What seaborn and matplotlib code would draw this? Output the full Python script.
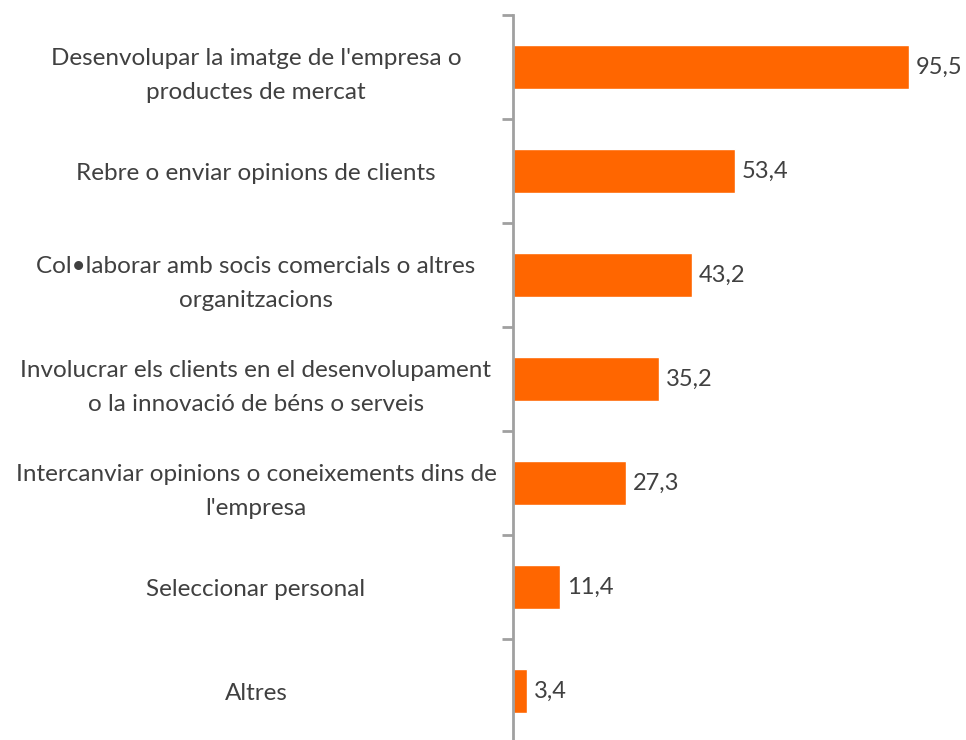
import matplotlib
matplotlib.use("Agg")
import matplotlib.pyplot as plt
import matplotlib.transforms as mtransforms
import seaborn as sns
import pandas as pd

categories = [
    "Desenvolupar la imatge de l'empresa o\nproductes de mercat",
    "Rebre o enviar opinions de clients",
    "Col\u2022laborar amb socis comercials o altres\norganitzacions",
    "Involucrar els clients en el desenvolupament\no la innovació de béns o serveis",
    "Intercanviar opinions o coneixements dins de\nl'empresa",
    "Seleccionar personal",
    "Altres",
]
values = [95.5, 53.4, 43.2, 35.2, 27.3, 11.4, 3.4]

sns.set_theme(style="white")
plt.rcParams['font.family'] = ['Lato', 'DejaVu Sans']

df = pd.DataFrame({"cat": categories, "val": values})

fig = plt.figure(figsize=(9.66, 7.40), dpi=100)
ax = fig.add_axes([513/966, -3/740, (961-513)/966, 728/740])
sns.barplot(data=df, y="cat", x="val", orient="h", color="#FF6600",
            saturation=1, width=0.42, ax=ax)
ax.set_xlim(0, 108)
ax.set_ylim(len(categories) - 0.5, -0.5)

for sp in ["top", "right", "bottom"]:
    ax.spines[sp].set_visible(False)
ax.spines["left"].set_color("#A0A0A0")
ax.spines["left"].set_linewidth(2)
ax.set_xticks([])
ax.set_yticks([i - 0.5 for i in range(len(categories) + 1)], minor=False)
ax.set_yticklabels([])
ax.set_yticks(range(len(categories)), minor=True)
ax.set_yticklabels(categories, minor=True, fontsize=17.5, color="#404040",
                   ha="center", multialignment="center", linespacing=1.75)
ax.tick_params(axis="y", which="major", length=8, width=2, color="#A0A0A0", left=True)
ax.tick_params(axis="y", which="minor", length=0, pad=0)
ax.set_xlabel("")
ax.set_ylabel("")

offset = mtransforms.ScaledTranslation(-(513 - 256) / 100, 0, fig.dpi_scale_trans)
for lab in ax.get_yticklabels(minor=True):
    lab.set_transform(lab.get_transform() + offset)
    lab.set_ha("center")

for i, v in enumerate(values):
    ax.annotate(f"{v:.1f}".replace(".", ","), xy=(v, i), xytext=(5, 0),
                textcoords="offset points", va="center", ha="left",
                fontsize=17, color="#404040")

fig.savefig("out.png", dpi=100)
